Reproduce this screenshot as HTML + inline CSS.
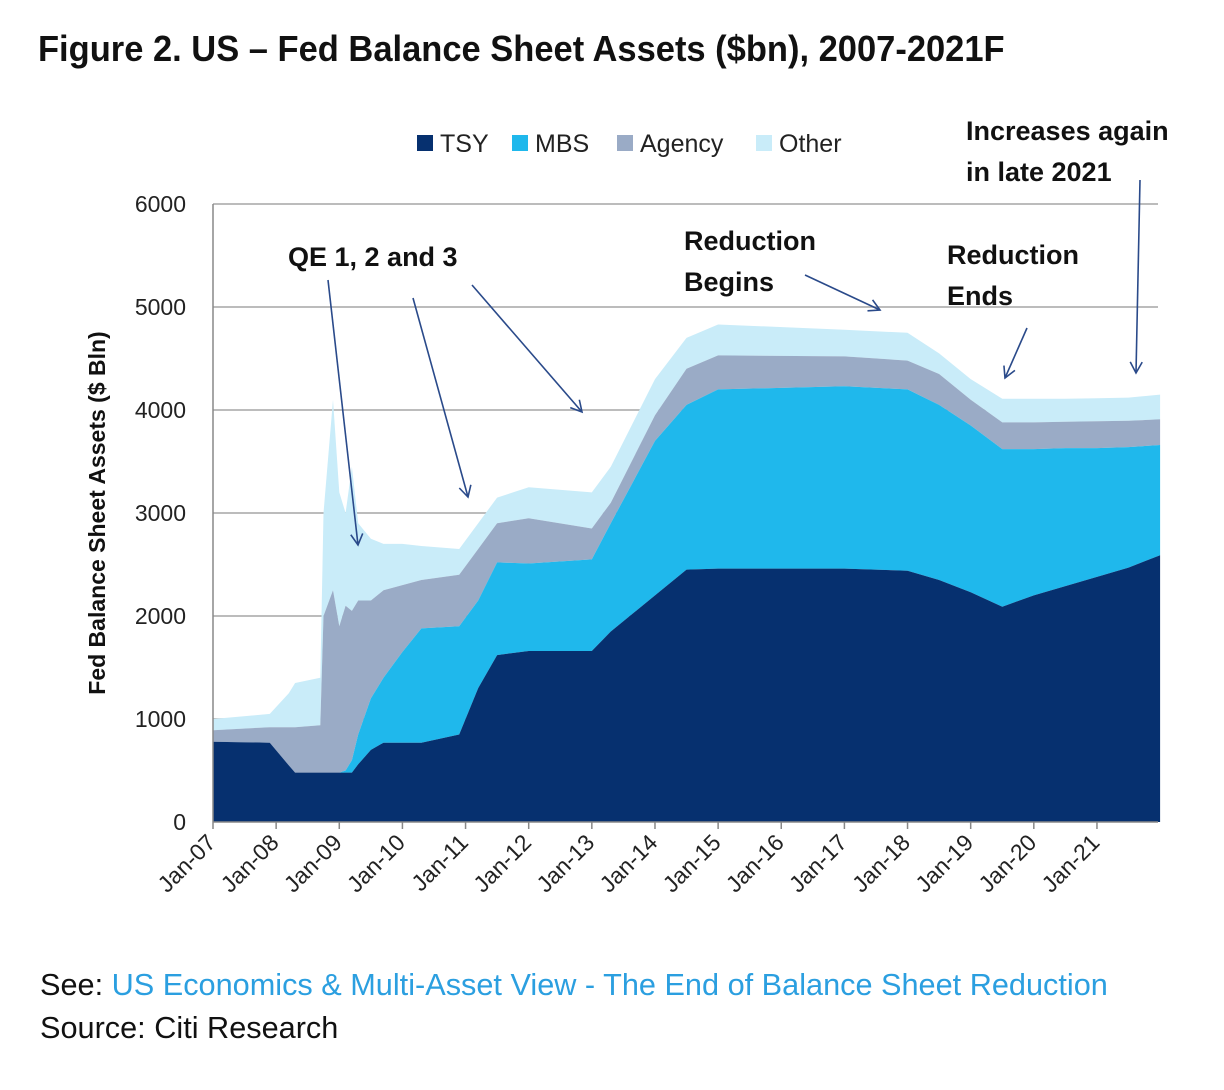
<!DOCTYPE html>
<html><head><meta charset="utf-8"><style>
body{margin:0;background:#fff;width:1224px;height:1090px;overflow:hidden;font-family:"Liberation Sans",sans-serif}
svg{position:absolute;left:0;top:0}
</style></head><body>
<svg width="1224" height="1090" id="c">
<defs><marker id="ah" markerWidth="14" markerHeight="14" refX="12" refY="7" orient="auto" markerUnits="userSpaceOnUse"><path d="M1,1 L12,7 L1,13" fill="none" stroke="#2a4a8a" stroke-width="1.6"/></marker></defs>
<text x="38" y="61" font-size="36" font-weight="bold" fill="#111" transform="translate(38,61) scale(0.958,1) translate(-38,-61)">Figure 2. US – Fed Balance Sheet Assets ($bn), 2007-2021F</text>
<g id="grid"></g><g id="areas"></g><g id="axes"></g>
<g font-size="25" fill="#222">
<rect x="417" y="135" width="16" height="16" fill="#06306f"/><text x="440" y="152">TSY</text>
<rect x="512" y="135" width="16" height="16" fill="#1fb8ec"/><text x="535" y="152">MBS</text>
<rect x="617" y="135" width="16" height="16" fill="#9aabc6"/><text x="640" y="152">Agency</text>
<rect x="756" y="135" width="16" height="16" fill="#c9ecf9"/><text x="779" y="152">Other</text>
</g>
<g font-size="27" font-weight="bold" fill="#111">
<text x="288" y="266">QE 1, 2 and 3</text>
<text x="684" y="250">Reduction</text>
<text x="684" y="291">Begins</text>
<text x="947" y="264">Reduction</text>
<text x="947" y="305">Ends</text>
<text x="966" y="140">Increases again</text>
<text x="966" y="181">in late 2021</text>
</g>
<g stroke="#2a4a8a" stroke-width="1.6" marker-end="url(#ah)">
<line x1="328" y1="280" x2="358" y2="545"/><line x1="413" y1="298" x2="468" y2="497"/><line x1="472" y1="285" x2="582" y2="412"/>
<line x1="805" y1="275" x2="880" y2="310"/><line x1="1027" y1="328" x2="1005" y2="378"/><line x1="1140" y1="180" x2="1136" y2="373"/>
</g>
<text transform="translate(105,513) rotate(-90)" text-anchor="middle" font-size="23" font-weight="bold" fill="#111">Fed Balance Sheet Assets ($ Bln)</text>
<text x="40" y="995" font-size="31" fill="#111" transform="translate(40,995) scale(0.99,1) translate(-40,-995)">See: <tspan fill="#2b9fe0">US Economics &amp; Multi-Asset View - The End of Balance Sheet Reduction</tspan></text>
<text x="40" y="1038" font-size="31" fill="#111" transform="translate(40,1038) scale(0.99,1) translate(-40,-1038)">Source: Citi Research</text>
</svg>
<script>
const dates=[2007.0,2007.9,2008.2,2008.3,2008.7,2008.75,2008.9,2009.0,2009.1,2009.2,2009.3,2009.5,2009.7,2010.0,2010.3,2010.9,2011.2,2011.5,2012.0,2013.0,2013.3,2014.0,2014.5,2015.0,2017.0,2018.0,2018.5,2019.0,2019.5,2020.0,2020.5,2021.0,2021.5,2022.0];
const tsyTop=[780,770,550,480,480,480,480,480,480,480,560,700,770,770,770,850,1300,1620,1660,1660,1850,2200,2450,2460,2460,2440,2350,2230,2090,2200,2290,2380,2470,2590];
const mbsTop=[780,770,550,480,480,480,480,480,500,600,850,1200,1400,1650,1880,1900,2150,2520,2510,2550,2900,3700,4050,4200,4230,4200,4050,3850,3620,3620,3630,3630,3640,3660];
const agencyTop=[890,920,920,920,940,2000,2250,1900,2100,2050,2150,2150,2250,2300,2350,2400,2650,2900,2950,2850,3100,3950,4400,4530,4520,4480,4350,4100,3880,3880,3885,3890,3895,3910];
const otherTop=[1000,1050,1250,1350,1400,3000,4100,3200,3000,3450,2900,2750,2700,2700,2680,2650,2900,3150,3250,3200,3450,4300,4700,4830,4780,4750,4550,4300,4110,4110,4110,4115,4120,4150];
const yTicks=[0,1000,2000,3000,4000,5000,6000];
const xTickLabels=["Jan-07","Jan-08","Jan-09","Jan-10","Jan-11","Jan-12","Jan-13","Jan-14","Jan-15","Jan-16","Jan-17","Jan-18","Jan-19","Jan-20","Jan-21"];
const X0=213,PXY=63.14,Y0=822,PXV=0.103;
const xs=d=>X0+(d-2007)*PXY, ys=v=>Y0-v*PXV;
const NS="http://www.w3.org/2000/svg";
const mk=(t,a,p)=>{const e=document.createElementNS(NS,t);for(const k in a)e.setAttribute(k,a[k]);p.appendChild(e);return e;};
const grid=document.getElementById('grid'),areas=document.getElementById('areas'),axes=document.getElementById('axes');
yTicks.forEach(v=>{
 if(v>0){const l=mk('line',{x1:X0,x2:1158,y1:ys(v),y2:ys(v),stroke:'#a6a6a6','stroke-width':1.5},grid);
 
 }
 const t=mk('text',{x:186,y:ys(v)+8,'text-anchor':'end','font-size':23,fill:'#222'},axes);t.textContent=v;
 
 
});
const layers=[[otherTop,agencyTop,'#c9ecf9','area-other'],[agencyTop,mbsTop,'#9aabc6','area-agency'],[mbsTop,tsyTop,'#1fb8ec','area-mbs'],[tsyTop,null,'#06306f','area-tsy']];
layers.forEach(([top,bot,col,name])=>{
 let d='M'+dates.map((dt,i)=>xs(dt).toFixed(1)+','+ys(top[i]).toFixed(1)).join(' L');
 for(let i=dates.length-1;i>=0;i--)d+=' L'+xs(dates[i]).toFixed(1)+','+ys(bot?bot[i]:0).toFixed(1);
 const p=mk('path',{d:d+'Z',fill:col},areas);
 
 
});
mk('line',{x1:X0,x2:X0,y1:204,y2:Y0,stroke:'#888','stroke-width':1.5},axes);
const xa=mk('line',{x1:X0,x2:1158,y1:Y0,y2:Y0,stroke:'#888','stroke-width':1.5},axes);


xTickLabels.forEach((lab,i)=>{
 const x=xs(2007+i);
 mk('line',{x1:x,x2:x,y1:Y0,y2:Y0+7,stroke:'#888','stroke-width':1.5},axes);
 const t=mk('text',{x:x+4,y:Y0+22,'text-anchor':'end','font-size':23,fill:'#222',transform:`rotate(-45 ${x+4} ${Y0+22})`},axes);
 t.textContent=lab;
 
 
});
</script>
</body></html>
